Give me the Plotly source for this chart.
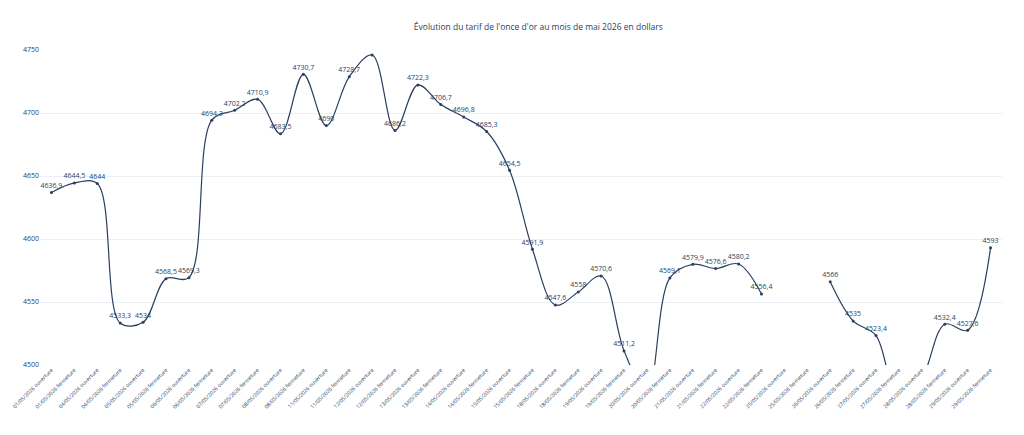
import plotly.graph_objects as go

jours = ["01/05/2026", "04/05/2026", "05/05/2026", "06/05/2026", "07/05/2026",
         "08/05/2026", "11/05/2026", "12/05/2026", "13/05/2026", "14/05/2026",
         "15/05/2026", "18/05/2026", "19/05/2026", "20/05/2026", "21/05/2026",
         "22/05/2026", "25/05/2026", "26/05/2026", "27/05/2026", "28/05/2026",
         "29/05/2026"]
moments = ["ouverture", "fermeture"]
categories = [j + " " + m for j in jours for m in moments]

# cours en dollars (None = pas de cotation)
cours = [4636.9, 4644.5, 4644, 4533.3, 4534, 4568.5, 4569.3, 4694.3,
         4702.2, 4710.9, 4683.5, 4730.7, 4690, 4728.7, 4746, 4686.2,
         4722.3, 4706.7, 4696.8, 4685.3, 4654.5, 4591.9, 4547.6, 4558,
         4570.6, 4511.2, 4478, 4569.1, 4579.9, 4576.6, 4580.2, 4556.4,
         None, None, 4566, 4535, 4523.4, 4470, 4489, 4532.4,
         4527.6, 4593]

labels = ["" if v is None else ("%g" % v).replace(".", ",") for v in cours]

fig = go.Figure(go.Scatter(
    x=categories,
    y=cours,
    text=labels,
    mode="lines+markers+text",
    textposition="top center",
    textfont=dict(size=7, color="#2a3f5f"),
    line=dict(shape="spline", color="#2a3f5f", width=1.2),
    marker=dict(size=3, color="#2a3f5f"),
    connectgaps=False,
    cliponaxis=True,
))

fig.update_layout(
    template="plotly_white",
    font=dict(family="Open Sans", color="#2a3f5f"),
    title=dict(text="Évolution du tarif de l'once d'or au mois de mai 2026 en dollars",
               x=0.518, xref="paper", xanchor="center",
               y=0.955, yanchor="middle", font=dict(size=8.5)),
    margin=dict(l=32, r=14, t=42, b=62),
    showlegend=False,
    xaxis=dict(type="category", range=[-0.5, len(categories) - 0.5],
               tickangle=-45, tickfont=dict(size=5.3),
               showgrid=False, automargin=False),
    yaxis=dict(range=[4500, 4750], dtick=50, tickfont=dict(size=7),
               zeroline=False, automargin=False),
)

fig.write_html("out.html")
